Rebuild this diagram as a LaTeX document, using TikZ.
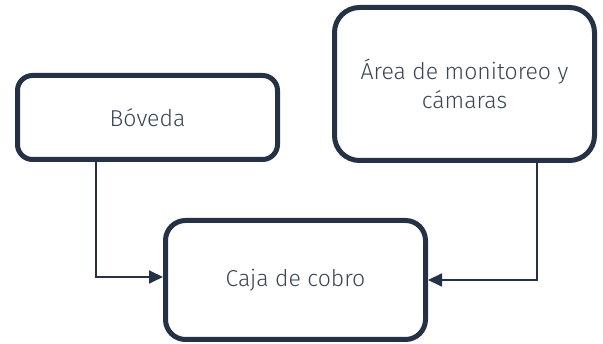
\documentclass[tikz,border=0pt]{standalone}
\usepackage{fontspec}
\setmainfont{Fira Sans Light}
\usetikzlibrary{arrows.meta}
\definecolor{edge}{HTML}{253246}
\definecolor{txt}{HTML}{3A4556}
\tikzset{
  blockbox/.style={draw=edge, line width=5pt, fill=white, minimum width=260pt, align=center, text=txt, font=\fontsize{23}{29}\selectfont, inner sep=0pt},
  conn/.style={draw=edge, line width=1.8pt, -{Triangle[length=14pt,width=13pt]}}
}
\begin{document}
\begin{tikzpicture}[x=1pt,y=-1pt]
\useasboundingbox (0,0) rectangle (603,344);
\node[blockbox, minimum height=84pt, rounded corners=15pt] (bov) at (147.5,117.5) {Bóveda};
\node[blockbox, minimum height=153pt, rounded corners=25pt] (area) at (464.5,84) {Área de monitoreo y\\cámaras};
\node[blockbox, minimum height=119pt, rounded corners=20pt] (caja) at (295.5,280) {Caja de cobro};
\draw[conn] (bov.south west) ++(81,0) |- ([yshift=3pt]caja.west);
\draw[conn] (area.south west) ++(205,0) |- (caja.east);
\end{tikzpicture}
\end{document}
